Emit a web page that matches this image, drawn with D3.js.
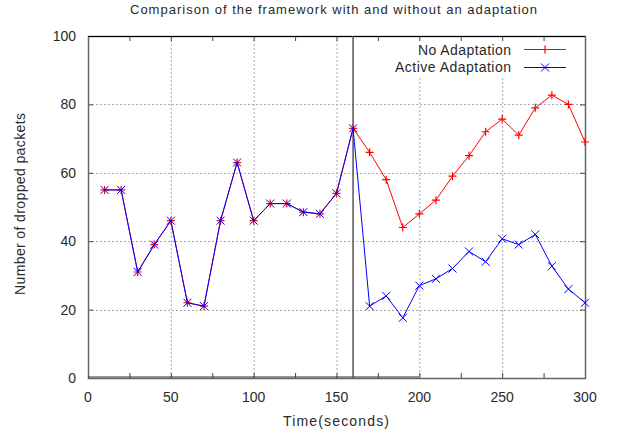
<!DOCTYPE html>
<html>
<head>
<meta charset="utf-8">
<script src="https://cdn.jsdelivr.net/npm/d3@7"></script>
<style>
  body { margin: 0; background: #fff; }
  svg { display: block; font-family: "Liberation Sans", Arial, sans-serif; }
</style>
</head>
<body>
<svg width="619" height="436"></svg>
<script>
// data
const times = [10, 20, 30, 40, 50, 60, 70, 80, 90, 100, 110, 120, 130, 140, 150, 160,
               170, 180, 190, 200, 210, 220, 230, 240, 250, 260, 270, 280, 290, 300];
const noAdaptation = [55, 55, 31, 39, 46, 22, 21, 46, 63, 46, 51, 51, 48.5, 48, 54, 73,
                      66, 58, 44, 48, 52, 59, 65, 72, 75.7, 71, 79, 82.7, 80, 69];
const activeAdaptation = [55, 55, 31, 39, 46, 22, 21, 46, 63, 46, 51, 51, 48.5, 48, 54, 73,
                          21, 24, 17.6, 27, 29, 32, 37, 34, 40.7, 39, 42, 32.7, 26, 22];
const xTicks = [0, 50, 100, 150, 200, 250, 300];
const yTicks = [0, 20, 40, 60, 80, 100];
const switchTime = 160;

let svg = d3.select('svg');
let margin = { left: 88, right: 34, top: 36, bottom: 58 };
let W = 619, H = 436;
let txt = '#2a2a2a';

let x = d3.scaleLinear().domain([0, 300]).range([margin.left, W - margin.right]);
let y = d3.scaleLinear().domain([0, 100]).range([H - margin.bottom, margin.top]);

// title (gnuplot spaces its letters wide)
svg.append('text')
  .attr('x', 130).attr('y', 14)
  .attr('font-size', 13)
  .attr('fill', txt)
  .attr('textLength', 407).attr('lengthAdjust', 'spacing')
  .text('Comparison of the framework with and without an adaptation');

// grid (dotted), kept out of the legend corner
let grid = svg.append('g').attr('stroke', '#aaa').attr('stroke-dasharray', '2,2').attr('stroke-width', 1);
xTicks.slice(1, -1).forEach(t => {
  let top = t >= 200 ? 78 : y(100);
  grid.append('line')
    .attr('x1', x(t) + 0.5).attr('x2', x(t) + 0.5)
    .attr('y1', top).attr('y2', y(0));
});
yTicks.slice(1, -1).forEach(v => {
  grid.append('line')
    .attr('x1', x(0)).attr('x2', x(300))
    .attr('y1', Math.round(y(v)) + 0.5).attr('y2', Math.round(y(v)) + 0.5);
});

// axes: ticks pointing inward, frame drawn separately
let axB = d3.axisBottom(x).tickValues(d3.range(0, 301, 25)).tickSize(-5).tickFormat(() => '');
let axT = d3.axisTop(x).tickValues(d3.range(0, 301, 25)).tickSize(-5).tickFormat(() => '');
let axL = d3.axisLeft(y).tickValues(yTicks).tickSize(-5).tickFormat(() => '');
let axR = d3.axisRight(y).tickValues(yTicks).tickSize(-5).tickFormat(() => '');

svg.append('g').attr('transform', `translate(0,${y(0)})`).call(axB);
svg.append('g').attr('transform', `translate(0,${y(100)})`).call(axT);
svg.append('g').attr('transform', `translate(${x(0)},0)`).call(axL);
svg.append('g').attr('transform', `translate(${x(300)},0)`).call(axR);
svg.selectAll('.domain').remove();
svg.selectAll('.tick line').attr('stroke', '#444');

// tick labels
svg.append('g').selectAll('text').data(xTicks).enter().append('text')
  .attr('x', d => x(d)).attr('y', y(0) + 24)
  .attr('text-anchor', 'middle').attr('font-size', 14).attr('fill', txt)
  .text(d => d);
svg.append('g').selectAll('text').data(yTicks).enter().append('text')
  .attr('x', x(0) - 12).attr('y', d => y(d) + 5)
  .attr('text-anchor', 'end').attr('font-size', 14).attr('fill', txt)
  .text(d => d);

// axis titles
svg.append('text')
  .attr('x', 283).attr('y', 426)
  .attr('font-size', 14).attr('fill', txt)
  .attr('textLength', 106).attr('lengthAdjust', 'spacing')
  .text('Time(seconds)');
svg.append('text')
  .attr('transform', 'translate(25,295) rotate(-90)')
  .attr('font-size', 14).attr('fill', txt)
  .attr('textLength', 182).attr('lengthAdjust', 'spacing')
  .text('Number of dropped packets');

// frame
svg.append('rect')
  .attr('x', x(0) + 0.5).attr('y', y(100) + 0.5)
  .attr('width', x(300) - x(0)).attr('height', y(0) - y(100))
  .attr('fill', 'none').attr('stroke', '#666').attr('stroke-width', 1.5);
svg.append('line')
  .attr('x1', x(0)).attr('x2', x(300))
  .attr('y1', y(100) + 0.5).attr('y2', y(100) + 0.5)
  .attr('stroke', '#000');
// zero line on the left part
svg.append('line')
  .attr('x1', x(0)).attr('x2', x(200))
  .attr('y1', y(0) - 1).attr('y2', y(0) - 1)
  .attr('stroke', '#333').attr('stroke-width', 1);

// vertical switch line
svg.append('line')
  .attr('x1', x(switchTime)).attr('x2', x(switchTime))
  .attr('y1', y(100)).attr('y2', y(0))
  .attr('stroke', '#555').attr('stroke-width', 1.5);

let line = d3.line().x((d, i) => x(times[i])).y(d => y(d));

function plus(g, cx, cy, color) {
  g.append('path')
    .attr('d', `M${cx - 4},${cy}H${cx + 4}M${cx},${cy - 4}V${cy + 4}`)
    .attr('stroke', color).attr('stroke-width', 1.2).attr('fill', 'none');
}
function cross(g, cx, cy, color) {
  g.append('path')
    .attr('d', `M${cx - 4},${cy - 4}L${cx + 4},${cy + 4}M${cx - 4},${cy + 4}L${cx + 4},${cy - 4}`)
    .attr('stroke', color).attr('stroke-width', 1).attr('fill', 'none');
}

// red series
let red = svg.append('g');
red.append('path').datum(noAdaptation)
  .attr('d', line).attr('fill', 'none').attr('stroke', '#f00').attr('stroke-width', 1);
noAdaptation.forEach((v, i) => plus(red, x(times[i]), y(v), '#f00'));

// blue series
let blue = svg.append('g');
blue.append('path').datum(activeAdaptation)
  .attr('d', line).attr('fill', 'none').attr('stroke', '#00f').attr('stroke-width', 1);
activeAdaptation.forEach((v, i) => cross(blue, x(times[i]), y(v), '#00f'));

// legend
let leg = svg.append('g');
leg.append('text').attr('x', 418).attr('y', 55)
  .attr('font-size', 14).attr('fill', txt)
  .attr('textLength', 93).attr('lengthAdjust', 'spacing')
  .text('No Adaptation');
leg.append('text').attr('x', 395).attr('y', 72)
  .attr('font-size', 14).attr('fill', txt)
  .attr('textLength', 116).attr('lengthAdjust', 'spacing')
  .text('Active Adaptation');
leg.append('line').attr('x1', 524).attr('x2', 566).attr('y1', 49.5).attr('y2', 49.5)
  .attr('stroke', '#f00');
plus(leg, 545, 49.5, '#f00');
leg.append('line').attr('x1', 524).attr('x2', 566).attr('y1', 67.5).attr('y2', 67.5)
  .attr('stroke', '#00f');
cross(leg, 545, 67.5, '#00f');
</script>
</body>
</html>
